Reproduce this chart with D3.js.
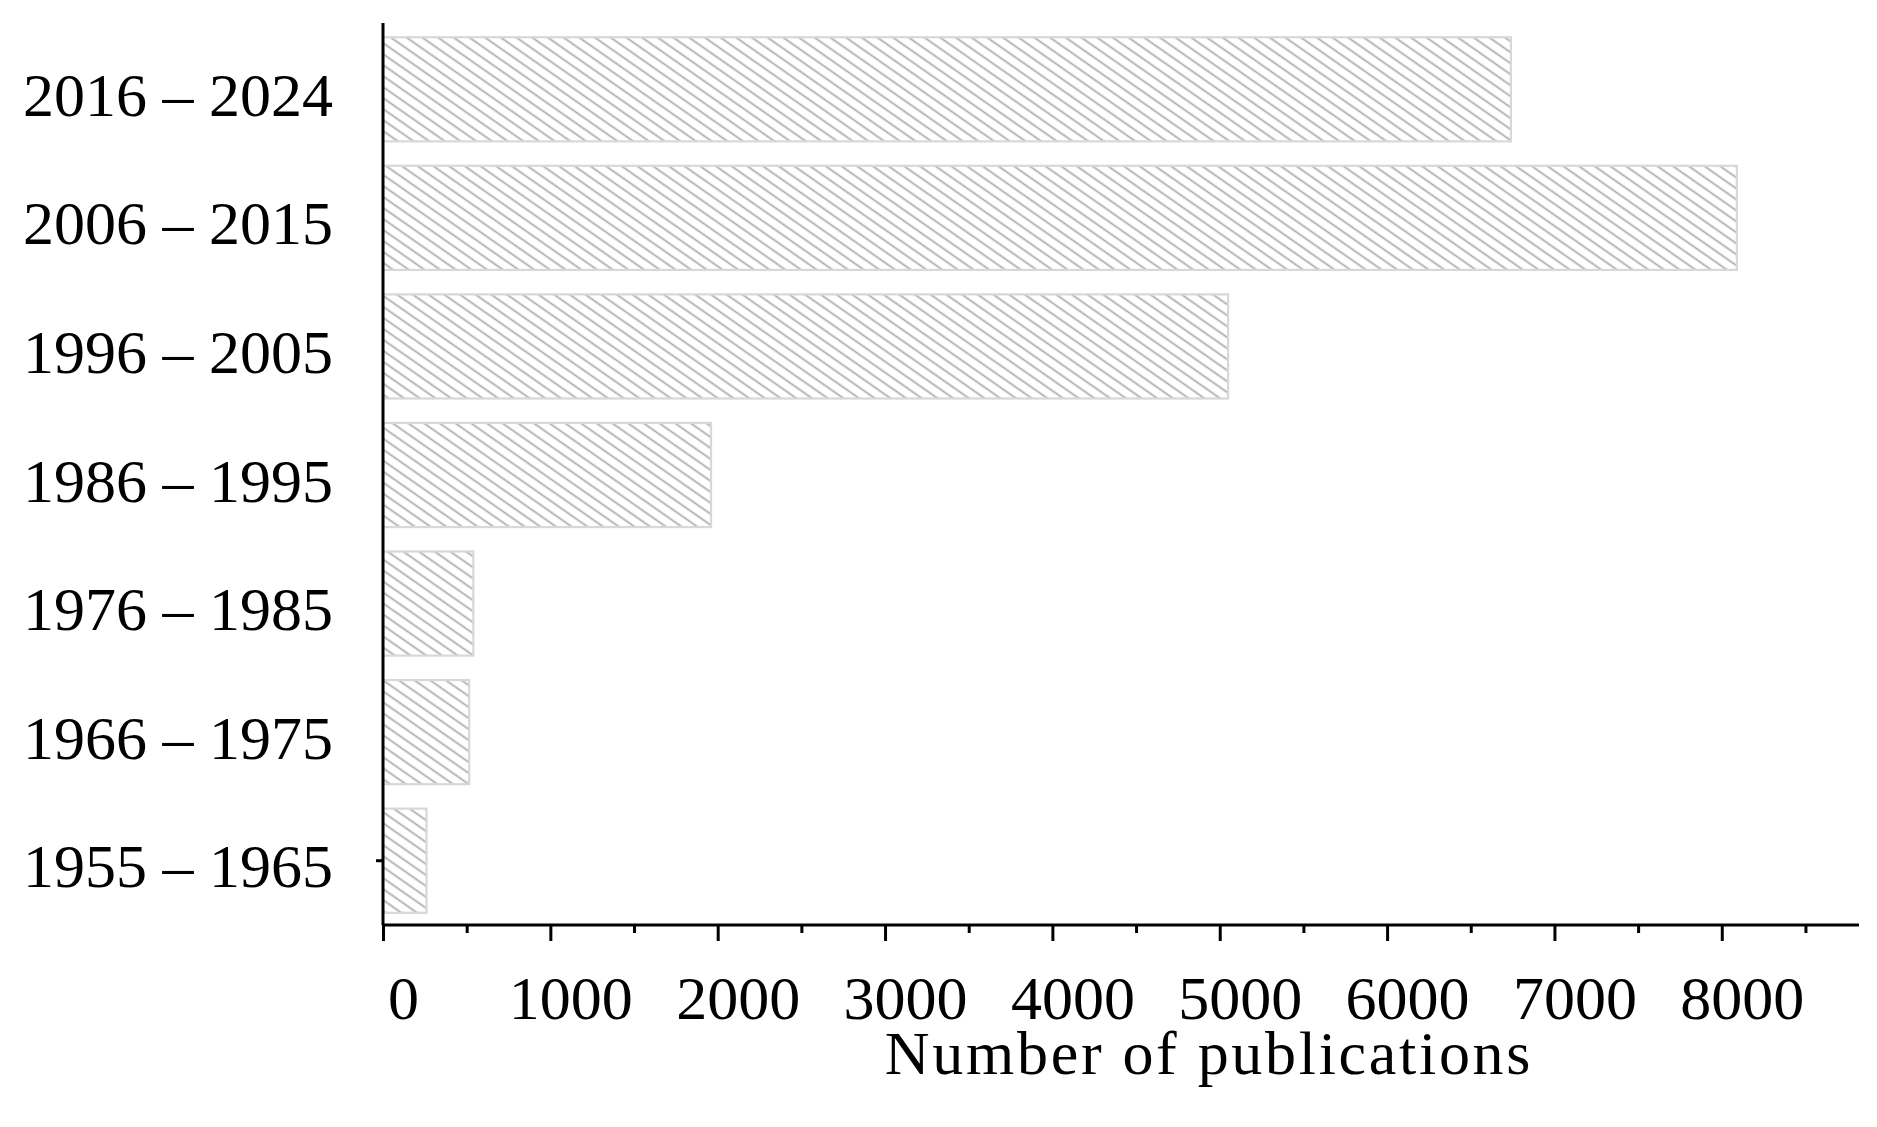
<!DOCTYPE html>
<html><head><meta charset="utf-8">
<script src="https://cdn.jsdelivr.net/npm/d3@7"></script>
<style>
html,body{margin:0;padding:0;background:#fff;}
text{font-family:"Liberation Serif","Times New Roman",serif;fill:#000;}
</style></head>
<body>
<svg id="chart" width="1877" height="1127"></svg>
<script>
const categories = ["2016 – 2024","2006 – 2015","1996 – 2005","1986 – 1995","1976 – 1985","1966 – 1975","1955 – 1965"];
const values = [6740, 8090, 5050, 1960, 540, 515, 260];
const majorTicks = [0,1000,2000,3000,4000,5000,6000,7000,8000];
const minorTicks = [500,1500,2500,3500,4500,5500,6500,7500,8500];
const xTitle = "Number of publications";

const svg = d3.select("#chart");
const x = d3.scaleLinear().domain([0, 8820]).range([383, 1859]);
const y = d3.scaleBand().domain(categories).range([25, 925]).paddingInner(0.19).paddingOuter(0.095);

const defs = svg.append("defs");
const pat = defs.append("pattern").attr("id","hatch").attr("patternUnits","userSpaceOnUse")
  .attr("width", 9).attr("height", 9).attr("patternTransform","rotate(35)");
pat.append("rect").attr("width",9).attr("height",9).attr("fill","#fff");
pat.append("line").attr("x1",0).attr("x2",9).attr("y1",4.5).attr("y2",4.5)
  .attr("stroke","#aaaaaa").attr("stroke-width",1.7);

svg.append("g").selectAll("rect").data(categories).join("rect")
  .attr("x", x(0))
  .attr("y", d => y(d))
  .attr("width", (d,i) => x(values[i]) - x(0))
  .attr("height", y.bandwidth())
  .attr("fill","url(#hatch)")
  .attr("stroke","#d8d8d8").attr("stroke-width",2.2);

// x axis major
const xg = svg.append("g").attr("transform","translate(0,925)")
  .call(d3.axisBottom(x).tickValues(majorTicks).tickSize(16).tickSizeOuter(0).tickFormat(d3.format("d")));
xg.select(".domain").remove();
xg.selectAll(".tick line").attr("stroke","#000").attr("stroke-width",3);
xg.selectAll(".tick text").attr("y",94).attr("dy",0).attr("dx",20)
  .attr("font-size",62).attr("font-family","Liberation Serif");
// x axis minor
const xm = svg.append("g").attr("transform","translate(0,925)")
  .call(d3.axisBottom(x).tickValues(minorTicks).tickSize(8).tickSizeOuter(0).tickFormat(""));
xm.select(".domain").remove();
xm.selectAll(".tick line").attr("stroke","#000").attr("stroke-width",3);

// axis lines
svg.append("line").attr("x1",x(0)).attr("x2",x(8820)).attr("y1",925).attr("y2",925)
  .attr("stroke","#000").attr("stroke-width",3);
svg.append("line").attr("x1",x(0)).attr("x2",x(0)).attr("y1",23).attr("y2",925)
  .attr("stroke","#000").attr("stroke-width",3);

// y axis: labels and single tick
const yg = svg.append("g").attr("transform",`translate(${x(0)},0)`)
  .call(d3.axisLeft(y).tickSize(0).tickPadding(50));
yg.select(".domain").remove();
yg.selectAll(".tick text").attr("font-size",62).attr("font-family","Liberation Serif")
  .attr("dy",0).attr("y",26.5);
const yt = svg.append("g").attr("transform",`translate(${x(0)},0)`)
  .call(d3.axisLeft(y).tickValues([categories[categories.length-1]]).tickSize(7).tickFormat(""));
yt.select(".domain").remove();
yt.selectAll(".tick line").attr("stroke","#000").attr("stroke-width",3);

svg.append("text").attr("x",1209).attr("y",1074).attr("text-anchor","middle")
  .attr("font-size",62).attr("letter-spacing",2.7).text(xTitle);
</script>
</body></html>
